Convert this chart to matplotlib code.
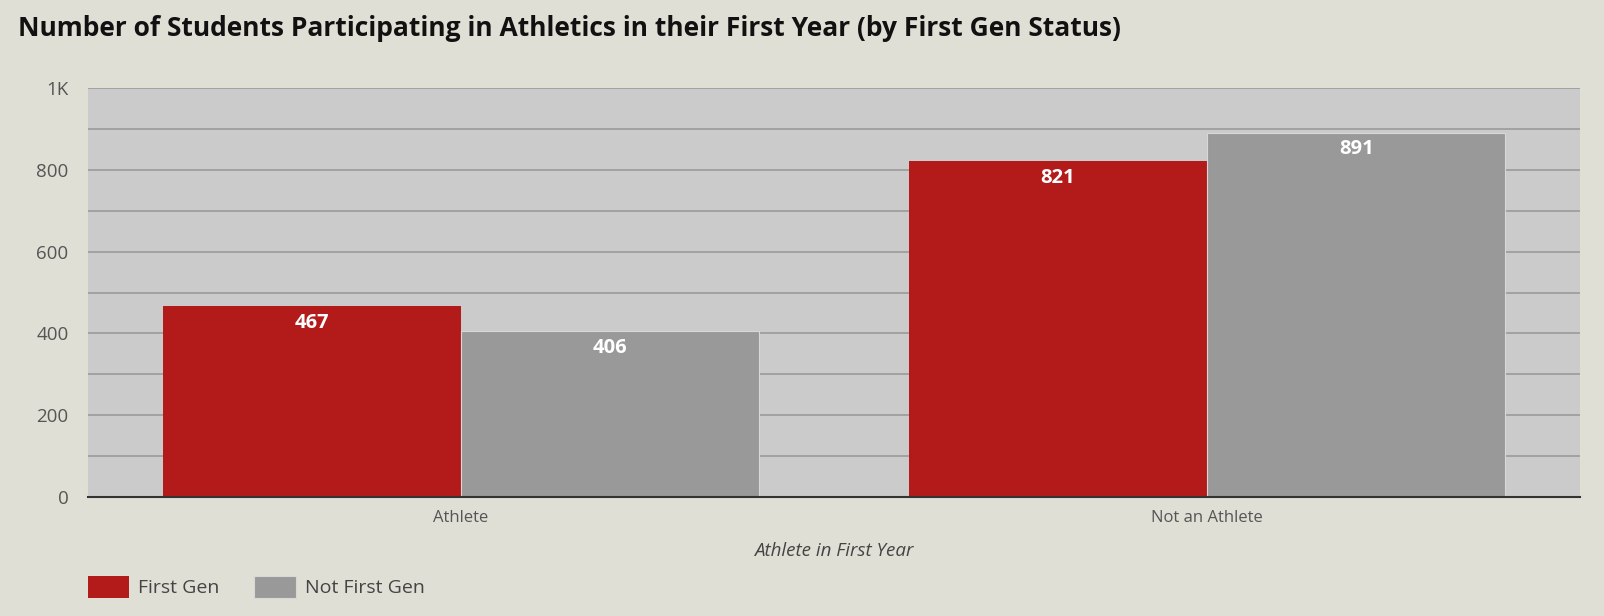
#!/usr/bin/env python3
"""Grouped bar chart: athletes in first year by first-gen status."""

import matplotlib

matplotlib.use("Agg")
import matplotlib.pyplot as plt
from matplotlib.ticker import FuncFormatter, MultipleLocator

categories = ["Athlete", "Not an Athlete"]
series_names = ["First Gen", "Not First Gen"]
first_gen = [467, 821]
not_first_gen = [406, 891]
yticks = [0, 200, 400, 600, 800, 1000]

RED = "#b31b1b"
GREY = "#999999"
BG = "#e0dfd5"
PLOT_BG = "#cbcbcb"


def fmt(v, _pos):
    return "1K" if v >= 1000 else f"{v:.0f}"


def main() -> None:
    plt.rcParams["font.family"] = ["Open Sans", "DejaVu Sans"]

    W, H = 1604, 616
    fig = plt.figure(figsize=(W / 100, H / 100), dpi=100, facecolor=BG)
    ax = fig.add_axes([88 / W, 1 - 497 / H, (1580 - 88) / W, (497 - 88) / H])
    ax.set_facecolor(PLOT_BG)

    xs = list(range(len(categories)))
    width = 0.4
    b1 = ax.bar([x - width / 2 for x in xs], first_gen, width, color=RED,
                label=series_names[0], zorder=3)
    b2 = ax.bar([x + width / 2 for x in xs], not_first_gen, width, color=GREY,
                label=series_names[1], zorder=3, edgecolor="#d8d8d8", linewidth=0.8)

    for bars in (b1, b2):
        for rect in bars:
            h = rect.get_height()
            ax.annotate(f"{h:.0f}", (rect.get_x() + rect.get_width() / 2, h),
                        xytext=(0, -12), textcoords="offset points",
                        ha="center", va="center", color="white",
                        fontsize=14.5, fontweight="bold", zorder=4)

    ax.set_xlim(-0.5, 1.5)
    ax.set_ylim(0, 1000)
    ax.set_yticks(yticks)
    ax.yaxis.set_minor_locator(MultipleLocator(100))
    ax.yaxis.set_major_formatter(FuncFormatter(fmt))
    ax.grid(axis="y", which="both", color="#9a9a9a", linewidth=1.2, zorder=1)
    ax.set_xticks(xs)
    ax.set_xticklabels(categories)
    ax.tick_params(axis="both", which="both", length=0, colors="#555555")
    ax.tick_params(axis="y", pad=14, labelsize=13.5)
    ax.tick_params(axis="x", pad=9, labelsize=12)
    for side in ("top", "right", "left"):
        ax.spines[side].set_visible(False)
    ax.spines["bottom"].set_color("#333333")
    ax.spines["bottom"].set_linewidth(1.5)
    ax.spines["bottom"].set_zorder(5)

    ax.set_xlabel("Athlete in First Year", fontstyle="italic", fontsize=13.5,
                  color="#444444", labelpad=12)

    fig.text(18 / W, 1 - 28 / H, "Number of Students Participating in Athletics "
             "in their First Year (by First Gen Status)", fontsize=19,
             fontweight="bold", color="#111111", va="center", ha="left")

    fig.legend(handles=[b1, b2], loc="center left",
               bbox_to_anchor=(70 / W, 1 - 587 / H), ncol=2, frameon=False,
               fontsize=14, handlelength=2.15, handleheight=1.35,
               handletextpad=0.45, columnspacing=1.8, labelcolor="#444444")

    fig.savefig("out.png", dpi=100, facecolor=BG)
    plt.close(fig)


if __name__ == "__main__":
    main()
